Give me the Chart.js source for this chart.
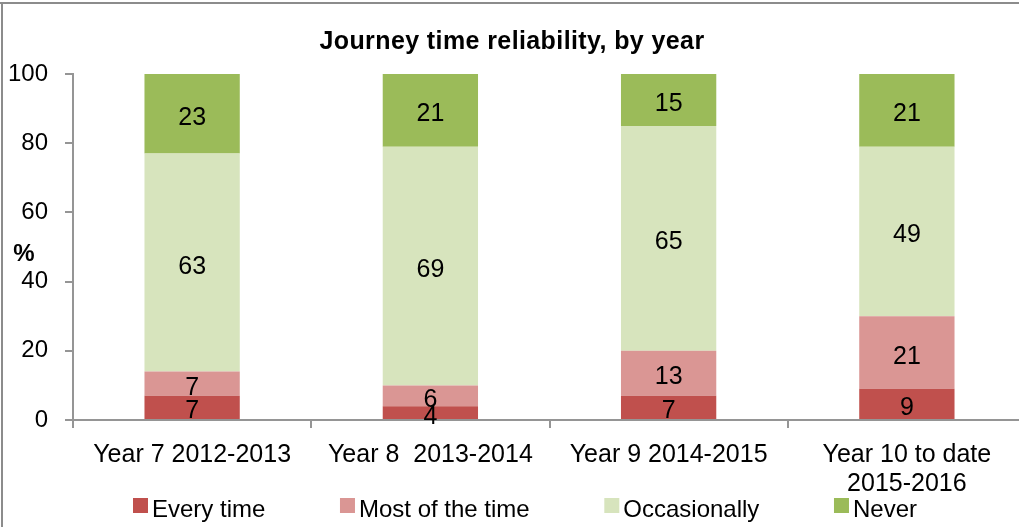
<!DOCTYPE html>
<html lang="en">
<head>
<meta charset="UTF-8">
<title>Journey time reliability, by year</title>
<style>
  html, body { margin: 0; padding: 0; background: #fff; overflow: hidden; }
  .chart-box { width: 1026px; height: 527px; position: relative; }
</style>
</head>
<body>
<div class="chart-box"><canvas id="chart"></canvas></div>

<script src="https://cdn.jsdelivr.net/npm/chart.js"></script>
<script>
// values
const categories = ['Year 7 2012-2013', 'Year 8  2013-2014', 'Year 9 2014-2015', ['Year 10 to date', '2015-2016']];
const seriesNames = ['Every time', 'Most of the time', 'Occasionally', 'Never'];
const everyTime = [7, 4, 7, 9];
const mostOfTheTime = [7, 6, 13, 21];
const occasionally = [63, 69, 65, 49];
const never = [23, 21, 15, 21];
const yTicks = [0, 20, 40, 60, 80, 100];

const FONT = '"Liberation Sans", Arial, sans-serif';
const axisGrey = '#959595';
Chart.defaults.font.family = FONT;

// white background, grey frame lines at top/left, and the title
const framePlugin = {
    id: 'frame',
    beforeDraw(chart) {
        const ctx = chart.ctx;
        ctx.save();
        ctx.fillStyle = '#fff';
        ctx.fillRect(0, 0, chart.width, chart.height);
        ctx.strokeStyle = '#8c8c8c';
        ctx.lineWidth = 2;
        ctx.beginPath();
        ctx.moveTo(0, 3);
        ctx.lineTo(chart.width, 3);
        ctx.moveTo(2, 3);
        ctx.lineTo(2, chart.height);
        ctx.stroke();

        ctx.fillStyle = '#000';
        ctx.font = 'bold 25px ' + FONT;
        if ('letterSpacing' in ctx) ctx.letterSpacing = '0.4px';
        ctx.textAlign = 'center';
        ctx.textBaseline = 'alphabetic';
        ctx.fillText('Journey time reliability, by year', 512, 49);
        ctx.restore();
    }
};

// numbers in the middle of each stacked segment
const segmentLabels = {
    id: 'segmentLabels',
    afterDatasetsDraw(chart) {
        const ctx = chart.ctx;
        ctx.save();
        ctx.font = '25px ' + FONT;
        ctx.fillStyle = '#000';
        ctx.textAlign = 'center';
        ctx.textBaseline = 'alphabetic';
        chart.data.datasets.forEach((ds, i) => {
            chart.getDatasetMeta(i).data.forEach((bar, j) => {
                ctx.fillText(ds.data[j], bar.x, (bar.y + bar.base) / 2 + 11);
            });
        });
        ctx.restore();
    }
};

// excel-style legend along the bottom and the "%" axis label
const extras = {
    id: 'extras',
    afterDraw(chart) {
        const ctx = chart.ctx;
        ctx.save();
        ctx.font = '24px ' + FONT;
        const items = chart.data.datasets.map(ds => ({
            label: ds.label,
            color: ds.backgroundColor,
            w: ctx.measureText(ds.label).width
        }));
        const box = 15, gap = 4, left = 133, right = 917;
        const used = items.reduce((s, it) => s + box + gap + it.w, 0);
        const spacing = (right - left - used) / (items.length - 1);
        let x = left;
        ctx.textAlign = 'left';
        ctx.textBaseline = 'alphabetic';
        items.forEach(it => {
            ctx.fillStyle = it.color;
            ctx.fillRect(x, 498, box, box);
            ctx.fillStyle = '#000';
            ctx.fillText(it.label, x + box + gap, 517);
            x += box + gap + it.w + spacing;
        });

        ctx.font = 'bold 24px ' + FONT;
        ctx.textAlign = 'center';
        ctx.textBaseline = 'middle';
        ctx.fillText('%', 24, 254);
        ctx.restore();
    }
};

new Chart(document.getElementById('chart'), {
    type: 'bar',
    data: {
        labels: categories,
        datasets: [
            { label: seriesNames[0], data: everyTime, backgroundColor: '#C0504D' },
            { label: seriesNames[1], data: mostOfTheTime, backgroundColor: '#DA9694' },
            { label: seriesNames[2], data: occasionally, backgroundColor: '#D7E4BD' },
            { label: seriesNames[3], data: never, backgroundColor: '#9BBB59' }
        ]
    },
    options: {
        responsive: true,
        maintainAspectRatio: false,
        animation: false,
        datasets: {
            bar: { barPercentage: 0.4, categoryPercentage: 1, borderWidth: 0 }
        },
        layout: { padding: { left: 0, right: 0, top: 74, bottom: 0 } },
        plugins: {
            legend: { display: false },
            tooltip: { enabled: false },
            title: { display: false }
        },
        scales: {
            x: {
                stacked: true,
                grid: { drawOnChartArea: false, tickLength: 8, color: axisGrey, lineWidth: 2, offset: true },
                border: { color: axisGrey, width: 2 },
                ticks: { color: '#000', font: { size: 25, lineHeight: 1.16 }, padding: 13, maxRotation: 0, autoSkip: false },
                afterFit(scale) { scale.height = 107; }
            },
            y: {
                stacked: true,
                min: 0,
                max: 100,
                grid: { drawOnChartArea: false, tickLength: 8, color: axisGrey, lineWidth: 2 },
                border: { color: axisGrey, width: 2 },
                ticks: { color: '#000', font: { size: 24 }, padding: 17 },
                afterBuildTicks(scale) { scale.ticks = yTicks.map(v => ({ value: v })); },
                afterFit(scale) { scale.width = 73; }
            }
        }
    },
    plugins: [framePlugin, segmentLabels, extras]
});
</script>
</body>
</html>
